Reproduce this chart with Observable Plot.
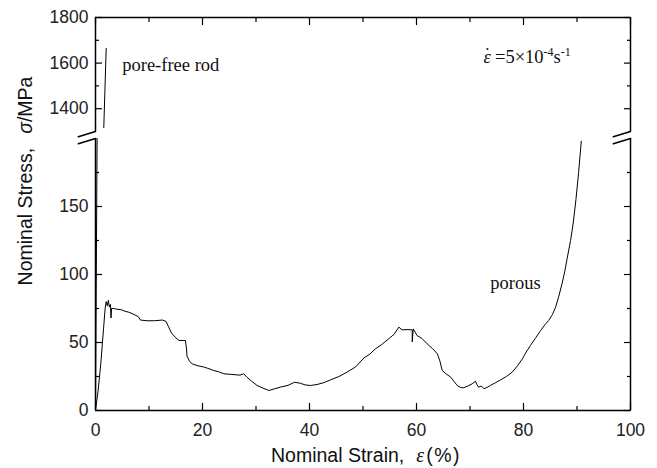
<!DOCTYPE html>
<html><head><meta charset="utf-8">
<script src="https://cdn.jsdelivr.net/npm/d3@7"></script>
<script src="https://cdn.jsdelivr.net/npm/@observablehq/plot@0.6"></script>
<style>body{margin:0;background:#fff}</style>
</head><body><div id="chart"></div>
<script>
// ---- data ----
const porousStrain = [0,0.5,1.0,1.5,1.8,2.0,2.2,2.4,2.6,2.8,2.9,3.0,3.4,4.0,4.9,5.5,6.2,7.0,8.0,8.4,9.6,11,12.5,13.2,13.6,14.2,15.0,15.6,16.8,17.0,17.1,17.6,18.1,19,20.2,21,22.1,23,24,25.5,27,27.7,28.3,29.2,30.2,31.3,32.4,33.5,34.6,36,37.2,38.3,39.2,40.2,41.4,42.7,43.9,45.5,47,48.6,50.2,51.3,52.3,53.5,54.8,55.8,56.7,57.3,58.2,59.2,59.2,59.4,60.1,61,62,63,63.9,64.4,64.8,65.5,66.4,67,67.6,68.2,68.8,69.6,70.4,71.0,71.3,71.6,72.1,72.6,73.2,73.8,74.8,75.7,76.8,77.9,78.9,79.8,80.5,81.3,82.2,83.2,84.0,84.7,85.4,86,86.6,87.2,87.7,88.2,88.8,89.3,89.8,90.3,90.8];
const porousStress = [0,15,35,60,75,80,77,81,76,78,68,75,75,74.5,74,73,72.3,71,69,66.5,66,66,66.5,65.5,62,57,53.5,51.5,51.5,46,40,36,34.3,33,32,31,29.4,28.5,27,26.5,26,27,24.5,21.5,18.4,16.5,14.7,16,17.2,18.5,20.8,20,18.8,18.4,19.1,20.5,22.5,25,28.2,32,38.7,41.5,45.3,48.5,52.7,56,61.3,59.3,59.5,59.3,50.5,60,55.1,53,49,45.5,41.7,36,29.4,27,24.5,21.5,18.4,17,16.7,18,19.6,21.5,19,17.2,18,16,17,18.4,20.5,22.5,25,28.2,33,38,43,47.8,53,58.8,63,66.2,70.5,76,84,93.2,102,112.7,125,138,155,175,198];
const poreFreeLowStrain = [0, 0.3];
const poreFreeLowStress = [0, 200];
const poreFreeHighStrain = [1.55, 2.0];
const poreFreeHighStress = [1317, 1665];

const xMajorTicks = [0, 20, 40, 60, 80, 100];
const xMinorTicks = [10, 30, 50, 70, 90];
const yMajorTicks = [0, 50, 100, 150, 1400, 1600, 1800];
const yMinorTicks = [25, 75, 125, 175, 1500, 1700];
const yBreak = [200, 1300];          // stress values where the axis is cut

const labelTexts = ["pore-free rod", "porous", "ε̇ =5×10-4s-1"];
const labelStrain = [5.0, 73.8, 72.5];
const labelStress = [1591, 94, 1626];

// ---- tables built from the arrays ----
const porous = porousStrain.map((s, i) => ({strain: s, stress: porousStress[i], seg: "porous"}));
const poreFree = [
  ...poreFreeLowStrain.map((s, i) => ({strain: s, stress: poreFreeLowStress[i], seg: "low"})),
  ...poreFreeHighStrain.map((s, i) => ({strain: s, stress: poreFreeHighStress[i], seg: "high"}))
];
const labels = labelTexts.map((t, i) => ({t, x: labelStrain[i], y: labelStress[i]}));
const axisSegs = [
  {x: 0, y1: 0, y2: yBreak[0]}, {x: 0, y1: yBreak[1], y2: 1800},
  {x: 100, y1: 0, y2: yBreak[0]}, {x: 100, y1: yBreak[1], y2: 1800}
];
const breakMarks = [
  {x: 0, y: yBreak[0]}, {x: 0, y: yBreak[1]},
  {x: 100, y: yBreak[0]}, {x: 100, y: yBreak[1]}
];
const lineShape = {draw(ctx, l) { ctx.moveTo(0, l / 2); ctx.lineTo(0, -l / 2); }};
const empty = () => "";
const serif = "'Liberation Serif', 'Times New Roman', serif";

const chart = Plot.plot({
  width: 657,
  height: 468,
  marginLeft: 95,
  marginRight: 27,
  marginTop: 17,
  marginBottom: 58,
  style: {fontFamily: "'Liberation Sans', Arial, sans-serif", fontSize: "16px", color: "#000", background: "#fff"},
  x: {domain: [0, 100]},
  y: {type: "linear", domain: [0, yBreak[0], yBreak[1], 1800], range: [410, 138, 131, 17]},
  marks: [
    // frame
    Plot.ruleX(axisSegs, {x: "x", y1: "y1", y2: "y2", stroke: "#000", strokeWidth: 1.5}),
    Plot.ruleY([0, 1800], {stroke: "#000", strokeWidth: 1.5}),
    // inward ticks
    Plot.axisX({anchor: "bottom", ticks: xMajorTicks, tickSize: -7, tickFormat: empty, label: null, strokeWidth: 1.2}),
    Plot.axisX({anchor: "bottom", ticks: xMinorTicks, tickSize: -4, tickFormat: empty, label: null, strokeWidth: 1.2}),
    Plot.axisX({anchor: "top", ticks: xMajorTicks, tickSize: -7, tickFormat: empty, label: null, strokeWidth: 1.2}),
    Plot.axisX({anchor: "top", ticks: xMinorTicks, tickSize: -4, tickFormat: empty, label: null, strokeWidth: 1.2}),
    Plot.axisY({anchor: "left", ticks: yMajorTicks, tickSize: -7, tickFormat: empty, label: null, strokeWidth: 1.2}),
    Plot.axisY({anchor: "left", ticks: yMinorTicks, tickSize: -4, tickFormat: empty, label: null, strokeWidth: 1.2}),
    Plot.axisY({anchor: "right", ticks: yMajorTicks, tickSize: -7, tickFormat: empty, label: null, strokeWidth: 1.2}),
    Plot.axisY({anchor: "right", ticks: yMinorTicks, tickSize: -4, tickFormat: empty, label: null, strokeWidth: 1.2}),
    // tick labels
    Plot.axisX({anchor: "bottom", ticks: xMajorTicks, tickSize: 0, tickPadding: 13, tickFormat: d3.format("d"), label: null, fontSize: 17.5, fill: "#222"}),
    Plot.axisY({anchor: "left", ticks: yMajorTicks, tickSize: 0, tickPadding: 7, tickFormat: d3.format("d"), label: null, fontSize: 17.5, fill: "#222"}),
    // axis break marks
    Plot.vector(breakMarks, {x: "x", y: "y", rotate: 73, length: 18, anchor: "middle", shape: lineShape, stroke: "#000", strokeWidth: 1.5}),
    // data
    Plot.line(poreFree, {x: "strain", y: "stress", z: "seg", stroke: "#000", strokeWidth: 1}),
    Plot.line(porous, {x: "strain", y: "stress", z: "seg", stroke: "#000", strokeWidth: 1}),
    // annotations
    Plot.text(labels, {x: "x", y: "y", text: "t", textAnchor: "start", fontFamily: serif, fontSize: 18.5, fill: "#111"}),
    // axis titles
    Plot.text(["Nominal Strain, ε (%)"], {frameAnchor: "bottom", textAnchor: "middle", lineAnchor: "middle", dx: 3, dy: 45, fontSize: 19.5, fill: "#111"}),
    Plot.text(["Nominal Stress, σ/MPa"], {frameAnchor: "left", textAnchor: "middle", lineAnchor: "middle", rotate: -90, dx: -70, dy: -33, fontSize: 19.5, fill: "#111"})
  ]
});

// rich text: italic symbols and superscripts
d3.select(chart).selectAll("text").each(function() {
  const t = this.textContent;
  const sel = d3.select(this);
  if (t === "Nominal Strain, ε (%)") {
    sel.text(null);
    sel.append("tspan").text("Nominal Strain,");
    sel.append("tspan").attr("dx", 12).attr("font-style", "italic").attr("font-family", serif).attr("font-size", 20).text("ε");
    sel.append("tspan").attr("dx", 2).attr("font-size", 19.5).attr("letter-spacing", 1.5).text("(%)");
  } else if (t === "Nominal Stress, σ/MPa") {
    sel.text(null);
    sel.append("tspan").text("Nominal Stress,");
    sel.append("tspan").attr("dx", 14).attr("font-style", "italic").text("σ");
    sel.append("tspan").text("/MPa");
  } else if (t === "ε̇ =5×10-4s-1") {
    sel.text(null);
    sel.append("tspan").attr("font-style", "italic").text("ε");
    sel.append("tspan").attr("dx", -6.5).attr("dy", -2).text("˙");
    sel.append("tspan").attr("dy", 2).text(" =5×10");
    sel.append("tspan").attr("dy", -7).attr("font-size", 12).text("-4");
    sel.append("tspan").attr("dy", 7).text("s");
    sel.append("tspan").attr("dy", -7).attr("font-size", 12).text("-1");
  }
});

document.getElementById("chart").appendChild(chart);
</script>
</body></html>
